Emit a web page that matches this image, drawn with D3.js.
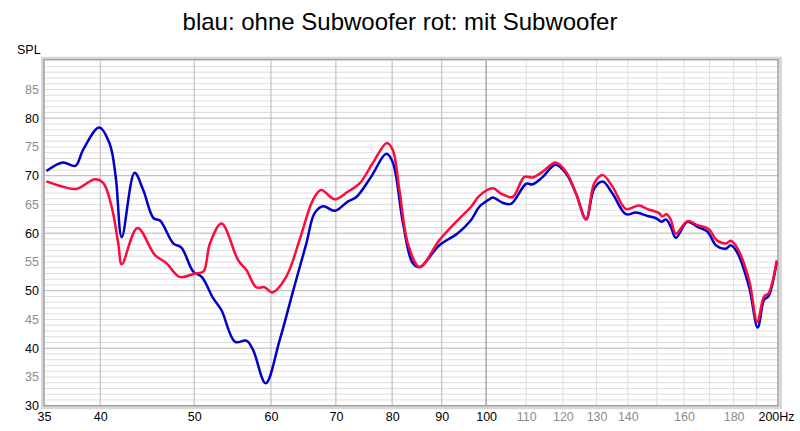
<!DOCTYPE html>
<html>
<head>
<meta charset="utf-8">
<script src="https://cdn.jsdelivr.net/npm/d3@7"></script>
<style>
  body { margin: 0; background: #fff; }
  svg { display: block; font-family: "Liberation Sans", Arial, sans-serif; }
</style>
</head>
<body>
<svg width="800" height="431"></svg>
<script>
// blau: ohne Subwoofer
var blueFreq = [35.2, 36.6, 37.7, 38.4, 39.9, 40.9, 41.5, 42.1, 43.4, 44.3, 45.4, 46.1, 47.6, 48.5, 49.9, 50.9,
  52.3, 53.35, 55.1, 56.6, 57.5, 59.25, 61.25, 63.2, 65.25, 66.55, 67.9, 69.8, 72.0, 73.5, 76.1, 78.9, 80.1,
  82.1, 84.0, 85.4, 89.5, 93.5, 96.5, 98.4, 100.8, 101.6, 104.0, 106.1, 110.0, 111.7, 114.4, 117.9, 120.9,
  123.8, 126.8, 129.3, 131.9, 135.0, 139.4, 142.7, 146.7, 149.7, 151.7, 153.25, 155.1, 156.9, 161.3, 165.2,
  169.1, 172.8, 176.7, 178.8, 181.6, 186.7, 190.6, 193.5, 195.5, 199.4];
var blueSpl = [70.8, 72.3, 71.7, 74.5, 78.4, 75.6, 69.8, 59.3, 70.5, 67.5, 62.6, 62.2, 58.2, 57.5, 53.3, 52.4,
  48.7, 46.6, 41.1, 41.3, 39.7, 33.9, 41.4, 49.8, 58.2, 63.5, 64.7, 63.9, 65.5, 66.3, 69.8, 73.8, 72.4,
  61.7, 54.8, 54.1, 57.9, 60.0, 62.3, 64.6, 65.9, 66.2, 65.3, 65.1, 68.6, 68.5, 69.8, 71.9, 70.4,
  66.9, 62.4, 67.8, 69.0, 66.9, 63.3, 63.6, 63.0, 62.6, 62.0, 62.4, 61.1, 59.2, 62.0, 61.1,
  60.3, 57.8, 57.3, 57.9, 56.6, 50.7, 43.6, 48.4, 49.0, 55.0];

// rot: mit Subwoofer
var redFreq = [35.2, 36.4, 37.8, 39.5, 40.3, 41.1, 41.75, 42.1, 43.7, 45.55, 46.8, 48.3, 50.1, 51.1, 51.9,
  53.35, 55.5, 56.6, 57.95, 59.1, 60.2, 62.2, 64.2, 64.7, 66.3, 67.6, 69.8, 72.0, 74.1, 76.4, 79.0, 80.1,
  81.4, 83.05, 85.4, 89.5, 93.9, 96.5, 98.4, 101.6, 103.6, 106.5, 109.5, 111.7, 114.4, 117.9, 120.9, 123.8,
  126.8, 129.3, 131.9, 135.0, 139.4, 142.7, 143.9, 146.7, 150.8, 152.0, 153.5, 155.1, 156.9, 161.3, 165.2,
  169.8, 172.8, 176.7, 178.8, 181.6, 186.7, 190.4, 193.5, 195.5, 199.4];
var redSpl = [69.0, 68.2, 67.7, 69.4, 68.7, 64.6, 58.2, 54.6, 60.9, 56.2, 54.8, 52.4, 53.0, 53.3, 58.2,
  61.7, 55.3, 53.6, 50.6, 50.6, 49.7, 52.4, 58.8, 60.6, 65.8, 67.5, 65.9, 67.2, 68.7, 72.2, 75.7, 74.5,
  67.5, 58.2, 54.1, 58.8, 62.6, 64.6, 66.5, 67.8, 66.9, 66.3, 69.8, 69.7, 70.7, 72.3, 70.7, 66.9,
  62.4, 68.7, 70.1, 68.1, 64.2, 64.7, 64.8, 64.2, 63.5, 62.9, 63.3, 62.3, 59.9, 62.1, 61.4,
  60.7, 58.8, 58.2, 58.7, 57.4, 51.9, 44.6, 49.0, 49.5, 55.3];

var xTicks = [35, 40, 50, 60, 70, 80, 90, 100, 110, 120, 130, 140, 160, 180, 200];
var xMajor = [40, 50, 60, 70, 80, 90];
var xMinor = [110, 120, 130, 140, 150, 160, 170, 180, 190];
var yTicks = [30, 35, 40, 45, 50, 55, 60, 65, 70, 75, 80, 85];

function main(){
  var svg = d3.select("svg");
  var pLeft = 44, pRight = 778, pTop = 60.7, pBottom = 405.7;

  var x = d3.scaleLog().domain([35, 200]).range([pLeft, pRight]);
  var y = d3.scaleLinear().domain([30, 90]).range([pBottom, pTop]);

  // title
  svg.append("text")
    .attr("x", 400).attr("y", 30)
    .attr("text-anchor", "middle")
    .attr("font-size", "24px")
    .attr("fill", "#000")
    .text("blau: ohne Subwoofer rot: mit Subwoofer");

  svg.append("text")
    .attr("x", 17).attr("y", 54)
    .attr("font-size", "12.5px")
    .text("SPL");

  // frame shadow
  svg.append("rect")
    .attr("x", pLeft - 1.5).attr("y", pTop - 2.5)
    .attr("width", pRight - pLeft + 4).attr("height", pBottom - pTop + 4.5)
    .attr("fill", "none").attr("stroke", "#d8d8d8").attr("stroke-width", 3);

  var g = svg.append("g");

  // horizontal grid, every 1 dB
  g.selectAll(".hmin").data(d3.range(31, 90))
    .enter().append("line")
    .attr("x1", pLeft).attr("x2", pRight)
    .attr("y1", function(d){ return y(d); })
    .attr("y2", function(d){ return y(d); })
    .attr("stroke", function(d){ return d % 10 == 0 ? "#b4b4b4" : "#dddddd"; })
    .attr("stroke-width", 1);

  // vertical grid
  g.selectAll(".vmin").data(xMinor)
    .enter().append("line")
    .attr("x1", function(d){ return x(d); }).attr("x2", function(d){ return x(d); })
    .attr("y1", pTop).attr("y2", pBottom)
    .attr("stroke", "#dddddd");

  g.selectAll(".vmaj").data(xMajor)
    .enter().append("line")
    .attr("x1", function(d){ return x(d); }).attr("x2", function(d){ return x(d); })
    .attr("y1", pTop).attr("y2", pBottom)
    .attr("stroke", "#b8b8b8");

  g.append("line")
    .attr("x1", x(100)).attr("x2", x(100))
    .attr("y1", pTop).attr("y2", pBottom)
    .attr("stroke", "#808080");

  // frame
  svg.append("rect")
    .attr("x", pLeft).attr("y", pTop - 1)
    .attr("width", pRight - pLeft).attr("height", pBottom - pTop + 1)
    .attr("fill", "none").attr("stroke", "#a0a0a0").attr("stroke-width", 1.5);

  // axes
  var xAxis = svg.append("g")
    .attr("transform", "translate(0," + (pBottom + 3) + ")")
    .call(d3.axisBottom(x).tickValues(xTicks).tickSize(0)
      .tickFormat(function(d){ return d == 200 ? "200Hz" : d; }));
  xAxis.select(".domain").remove();
  xAxis.selectAll("text")
    .attr("font-family", "Liberation Sans, Arial, sans-serif")
    .attr("font-size", "12.5px")
    .attr("fill", function(d){ return (d > 100 && d < 200) ? "#8c8c8c" : "#000"; })
    .attr("dx", function(d){ return d == 200 ? "-2" : "0"; });

  var yAxis = svg.append("g")
    .attr("transform", "translate(39,0)")
    .call(d3.axisLeft(y).tickValues(yTicks).tickSize(0).tickPadding(0));
  yAxis.select(".domain").remove();
  yAxis.selectAll("text")
    .attr("font-family", "Liberation Sans, Arial, sans-serif")
    .attr("font-size", "12.5px")
    .attr("fill", function(d){ return d % 10 == 0 ? "#000" : "#8c8c8c"; });

  // curves
  var line = d3.line()
    .x(function(d){ return x(d[0]); })
    .y(function(d){ return y(d[1]); })
    .curve(d3.curveCatmullRom.alpha(0.5));

  svg.append("path")
    .datum(d3.zip(blueFreq, blueSpl))
    .attr("d", line)
    .attr("fill", "none").attr("stroke", "#0000c8").attr("stroke-width", 2.5);

  svg.append("path")
    .datum(d3.zip(redFreq, redSpl))
    .attr("d", line)
    .attr("fill", "none").attr("stroke", "#ff0a3c").attr("stroke-width", 2.5);
}

main();
</script>
</body>
</html>
